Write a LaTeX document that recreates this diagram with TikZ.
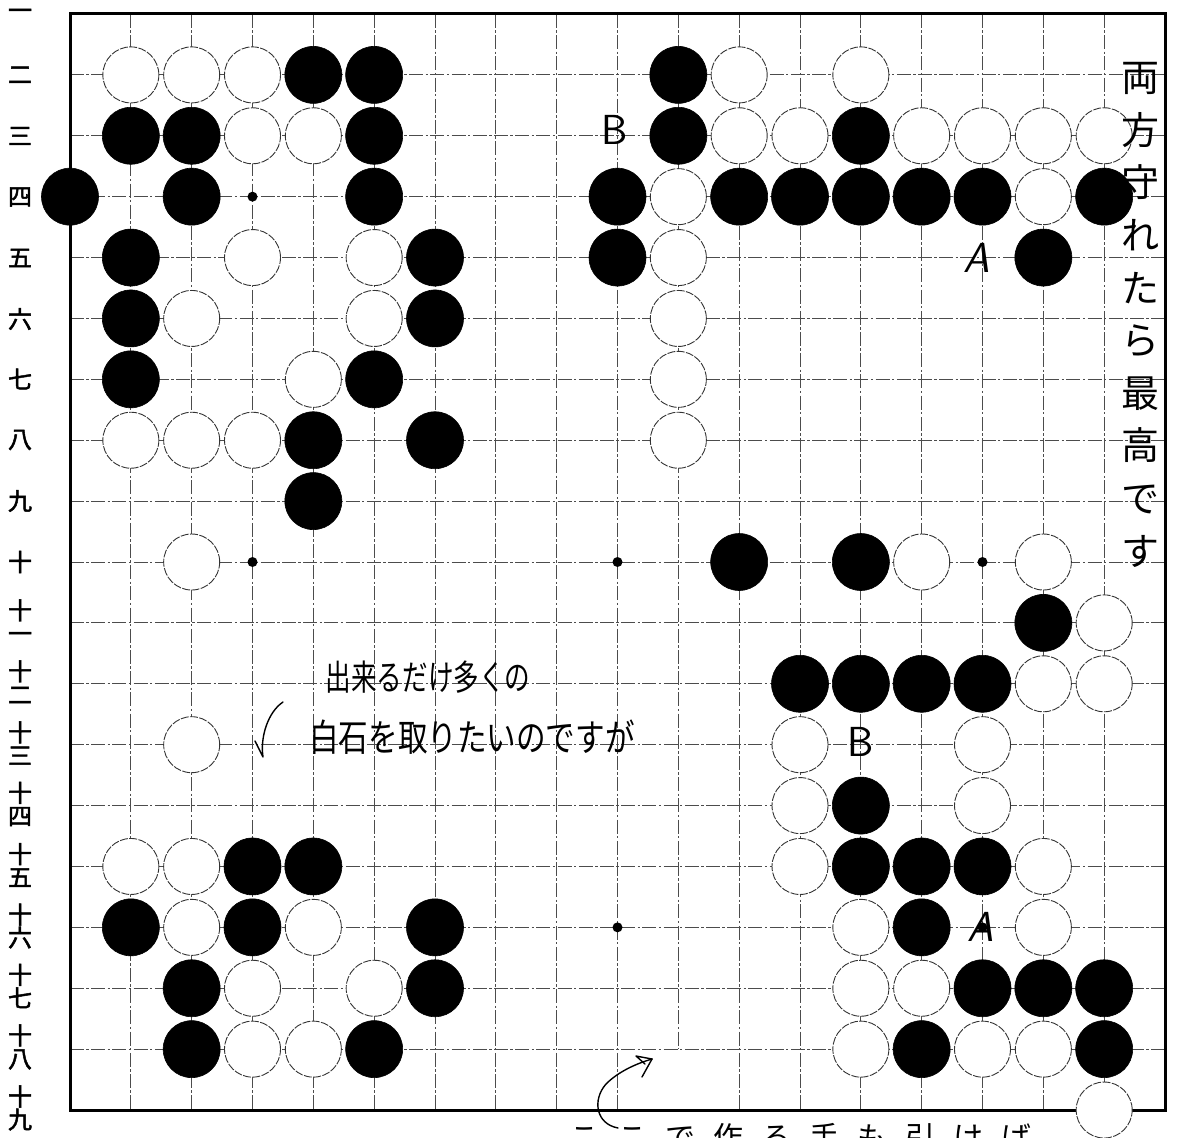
\documentclass[tikz,border=0pt]{standalone}
\usepackage{fontspec}
\usepackage{graphicx}
\newfontfamily\jp{Noto Sans CJK JP}
\newfontfamily\jpb[FakeBold=2]{Noto Sans CJK JP}
\usetikzlibrary{arrows.meta}
\begin{document}
\begin{tikzpicture}[x=0.5pt,y=-0.5pt,
  gridline/.style={draw=black!70, line width=0.45pt, dash pattern=on 7pt off 1.2pt on 1.2pt off 1.2pt},
  boardedge/.style={draw=black, line width=1.5pt},
  bstone/.style={circle, fill=black, draw=black, line width=0.3pt, minimum size=28.5pt, inner sep=0pt},
  wstone/.style={circle, fill=white, draw=black!80, line width=0.45pt, dash pattern=on 4pt off 0.7pt, minimum size=28pt, inner sep=0pt},
  hoshi/.style={circle, fill=black, minimum size=5pt, inner sep=0pt},
  rowlabel/.style={font=\jpb\fontsize{12}{11.5}\selectfont, align=center, inner sep=0pt},
  handletter/.style={font=\sffamily\fontsize{21}{21}\selectfont, inner sep=0pt},
  handslant/.style={font=\sffamily\slshape\fontsize{21}{21}\selectfont, inner sep=0pt},
  note/.style={inner sep=0pt, align=center},
  pen/.style={draw=black, line width=0.7pt, line cap=round, line join=round}
]
\useasboundingbox (0,0) rectangle (1181,1138);
% grid
\foreach \c in {1,...,17}{
  \ifnum\c=10
    \draw[gridline] ({70+60.833*\c},14) -- ({70+60.833*\c},{14+60.89*17});
  \else
    \draw[gridline] ({70+60.833*\c},14) -- ({70+60.833*\c},1110);
  \fi
}
\foreach \r in {2,...,18}{
  \draw[gridline] (70,{14+60.89*(\r-1)}) -- (1165,{14+60.89*(\r-1)});
}
\draw[boardedge] (70,14) rectangle (1165,1110);
% star points
\foreach \c/\r in {3/4,3/10,9/10,15/10,9/16,15/16}{
  \node[hoshi] (h\c-\r) at ({70+60.833*\c},{14+60.89*(\r-1)}) {};
}
% black stones
\foreach \c/\r in {4/2,5/2,10/2,
  1/3,2/3,5/3,10/3,13/3,
  0/4,2/4,5/4,9/4,11/4,12/4,13/4,14/4,15/4,17/4,
  1/5,6/5,9/5,16/5,
  1/6,6/6, 1/7,5/7, 4/8,6/8, 4/9,
  11/10,13/10, 16/11, 12/12,13/12,14/12,15/12, 13/14,
  3/15,4/15,13/15,14/15,15/15,
  1/16,3/16,6/16,14/16,
  2/17,6/17,15/17,16/17,17/17,
  2/18,5/18,14/18,17/18}{
  \node[bstone] (b\c-\r) at ({70+60.833*\c},{14+60.89*(\r-1)}) {};
}
% white stones
\foreach \c/\r in {1/2,2/2,3/2,11/2,13/2,
  3/3,4/3,11/3,12/3,14/3,15/3,16/3,17/3,
  10/4,16/4, 3/5,5/5,10/5, 2/6,5/6,10/6, 4/7,10/7,
  1/8,2/8,3/8,10/8,
  2/10,14/10,16/10, 17/11, 16/12,17/12,
  2/13,12/13,15/13, 12/14,15/14,
  1/15,2/15,12/15,16/15,
  2/16,4/16,13/16,16/16,
  3/17,5/17,13/17,14/17,
  3/18,4/18,13/18,15/18,16/18, 17/19}{
  \node[wstone] (w\c-\r) at ({70+60.833*\c},{14+60.89*(\r-1)}) {};
}
% row labels
\node[rowlabel] (r1) at (20,14) {一};
\node[rowlabel] (r2) at (20,75) {二};
\node[rowlabel] (r3) at (20,136) {三};
\node[rowlabel] (r4) at (20,197) {四};
\node[rowlabel] (r5) at (20,258) {五};
\node[rowlabel] (r6) at (20,319) {六};
\node[rowlabel] (r7) at (20,379) {七};
\node[rowlabel] (r8) at (20,440) {八};
\node[rowlabel] (r9) at (20,501) {九};
\node[rowlabel] (r10) at (20,562) {十};
\node[rowlabel] (r11) at (20,621) {十\\一};
\node[rowlabel] (r12) at (20,682) {十\\二};
\node[rowlabel] (r13) at (20,743) {十\\三};
\node[rowlabel] (r14) at (20,804) {十\\四};
\node[rowlabel] (r15) at (20,865) {十\\五};
\node[rowlabel] (r16) at (20,926) {十\\六};
\node[rowlabel] (r17) at (20,986) {十\\七};
\node[rowlabel] (r18) at (20,1047) {十\\八};
\node[rowlabel] (r19) at (20,1108) {十\\九};
% handwritten letters
\node[handletter] (lB1) at (615,130) {B};
\node[handletter] (lB2) at (861,742) {B};
\node[handslant] (lA1) at (977,258) {A};
\node[handslant] (lA2) at (981,927) {A};
% notes
\node[note, font=\jp\fontsize{16}{16}\selectfont] (n1) at (428,677) {\scalebox{0.8}[1.1]{出来るだけ多くの}};
\node[note, font=\jp\fontsize{17}{17}\selectfont] (n2) at (472,737) {\scalebox{0.87}[1.1]{白石を取りたいのですが}};
\node[note, font=\jp\fontsize{19}{26.3}\selectfont, anchor=north] (n3) at (1140,62) {両\\方\\守\\れ\\た\\ら\\最\\高\\で\\す};
\node[note, font=\jp\fontsize{15}{15}\selectfont, anchor=north] (n4) at (800,1123) {こ\hspace{9pt}こ\hspace{9pt}で\hspace{9pt}作\hspace{9pt}る\hspace{9pt}手\hspace{9pt}も\hspace{9pt}引\hspace{9pt}け\hspace{9pt}ば};
% hand-drawn arrows
\coordinate (a1s) at (283,702);
\coordinate (a1t) at (263,757);
\coordinate (a1b) at (255,741);
\draw[pen] (a1s) .. controls (268,712) and (260,737) .. (a1t) -- (a1b);
\coordinate (a2s) at (618,1128);
\coordinate (a2m) at (606,1084);
\coordinate (a2t) at (652,1059);
\coordinate (a2b1) at (636,1056);
\coordinate (a2b2) at (645,1064);
\coordinate (a2b3) at (642,1077);
\draw[pen] (a2s) .. controls (596,1124) and (592,1100) .. (a2m) .. controls (618,1072) and (635,1064) .. (a2t);
\draw[pen] (a2t) -- (a2b1) -- (a2b2);
\draw[pen] (a2t) -- (a2b3);
\end{tikzpicture}
\end{document}
